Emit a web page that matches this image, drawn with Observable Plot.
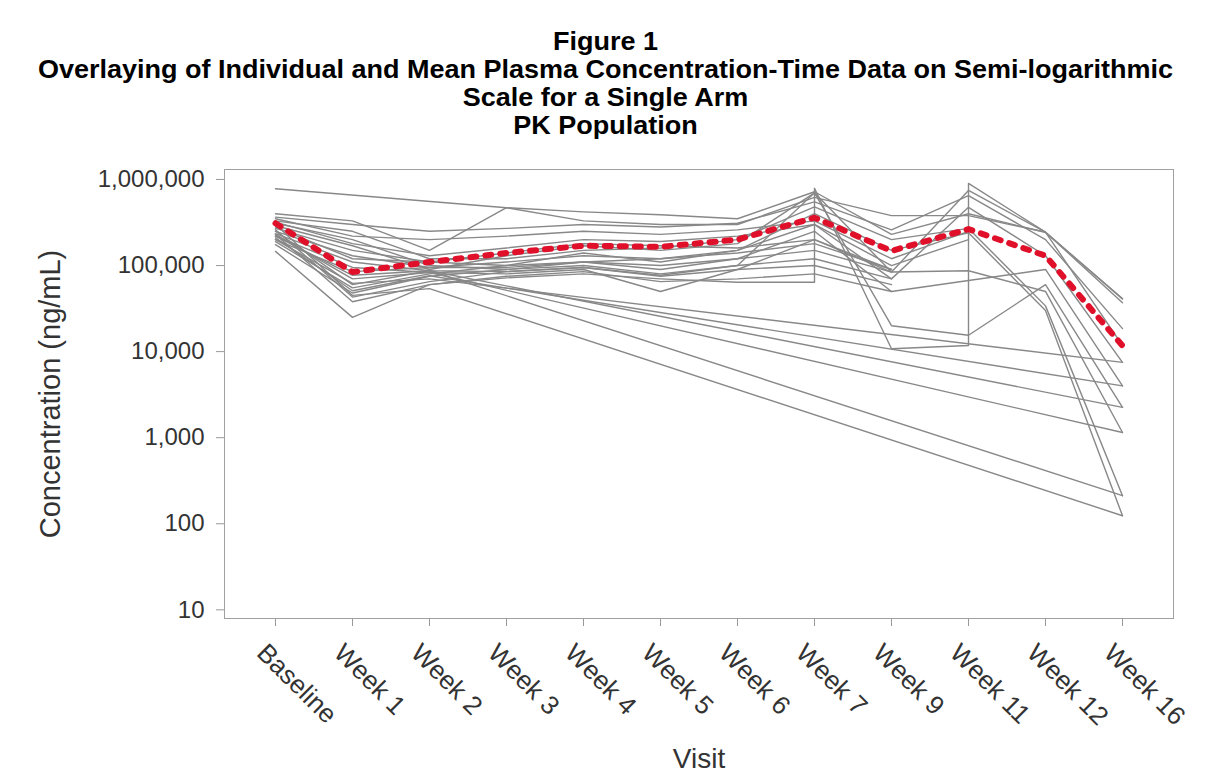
<!DOCTYPE html>
<html><head><meta charset="utf-8">
<script src="https://cdn.jsdelivr.net/npm/d3@7"></script>
<script src="https://cdn.jsdelivr.net/npm/@observablehq/plot@0.6"></script>
<style>
body{margin:0;background:#fff;}
#chart{position:relative;width:1211px;height:776px;overflow:hidden;}
#titles{position:absolute;left:0;top:27px;width:1211px;text-align:center;font-family:"Liberation Sans",Arial,sans-serif;font-weight:bold;font-size:25px;line-height:28px;color:#000;}
#titles div{transform:scaleX(1.08);transform-origin:50% 50%;}
</style></head><body>
<div id="chart"><div id="titles">
<div>Figure 1</div>
<div>Overlaying of Individual and Mean Plasma Concentration-Time Data on Semi-logarithmic</div>
<div>Scale for a Single Arm</div>
<div>PK Population</div>
</div></div>
<script>
// Visits on the x axis
const visits = ["Baseline","Week 1","Week 2","Week 3","Week 4","Week 5","Week 6","Week 7","Week 9","Week 11","Week 12","Week 16"];
const yTicks = [10, 100, 1000, 10000, 100000, 1000000];
// Mean concentration by visit (ng/mL)
const meanConc = [310000, 84000, 110000, 140000, 170000, 165000, 200000, 360000, 148000, 265000, 130000, 11700];
// Individual subjects, one value per visit (null = missing, pair = pre/post-dose sample)
const s01 = [146000, 25000, 60000, 72000, 80000, 70000, 64000, [64000, 790000], 10800, [11800, 900000], 244000, 41000];
const s02 = [780000, null, null, 470000, 420000, 390000, 350000, 720000, 230000, 400000, 244000, 41000];
const s03 = [400000, 330000, 150000, 470000, 330000, 300000, 300000, 620000, 380000, 380000, 244000, 37000];
const s04 = [365000, 300000, 250000, 270000, 300000, 280000, 310000, 550000, 260000, 650000, 200000, 18500];
const s05 = [330000, 250000, 120000, 120000, 150000, 160000, 200000, 480000, 200000, 270000, 34000, 212];
const s06 = [310000, 200000, 100000, 90000, 110000, 120000, 150000, 400000, 150000, 240000, 30000, 124];
const s07 = [290000, 170000, 90000, 130000, 170000, 150000, 180000, 700000, 84000, 745000, 244000, 11800];
const s08 = [270000, 150000, 110000, 100000, 140000, 110000, 150000, 300000, 70000, 475000, 130000, 7500];
const s09 = [250000, 130000, 95000, 95000, 110000, 90000, 120000, 250000, 50000, 67000, 90000, 4000];
const s10 = [235000, 110000, 87000, 85000, 95000, 77000, 100000, 700000, 20000, 15500, 60000, 2250];
const s11 = [220000, 95000, 83000, 80000, 90000, 50000, 90000, 200000, 84000, 87000, 50000, 1150];
const s12 = [300000, 45000, 54000, null, null, null, null, null, null, null, null, 124];
const s13 = [250000, 60000, 87000, null, null, null, null, null, null, null, null, 212];
const s14 = [230000, 70000, 83000, null, null, null, null, null, null, null, null, 1150];
const s15 = [220000, 77000, 87000, null, null, null, null, null, null, null, null, 2250];
const s16 = [210000, 51000, 76000, null, null, null, null, null, null, null, null, 4000];
const s17 = [200000, 62000, 70000, null, null, null, null, null, null, null, null, 7500];
const s18 = [200000, 85000, 95000, 110000, 130000, 120000, 140000, 180000, 90000, null, null, null];
const s19 = [190000, 55000, 80000, 100000, 110000, 100000, 120000, 150000, 84000, null, null, null];
const s20 = [175000, 48000, 75000, 90000, 100000, 80000, 100000, 120000, 70000, null, null, null];
const s21 = [260000, 43000, 65000, 85000, 95000, 75000, 90000, 100000, 60000, null, null, null];
const s22 = [230000, 38000, 60000, 75000, 85000, 65000, 70000, 80000, 50000, null, null, null];
const s23 = [350000, 220000, 200000, 220000, 250000, 230000, 260000, 330000, 120000, 250000, null, null];
const s24 = [320000, 180000, 130000, 160000, 200000, 190000, 220000, 300000, 100000, 200000, null, null];
const s25 = [280000, 120000, 110000, 140000, 180000, 170000, 160000, 200000, 90000, null, null, null];

const subjects = {s01,s02,s03,s04,s05,s06,s07,s08,s09,s10,s11,s12,s13,s14,s15,s16,s17,s18,s19,s20,s21,s22,s23,s24,s25};
const indiv = [];
for (const [id, vals] of Object.entries(subjects)) {
  visits.forEach((v, i) => {
    const val = vals[i];
    if (val == null) return;
    for (const c of [].concat(val)) indiv.push({id, visit: v, conc: c});
  });
}
const meanData = visits.map((v, i) => ({visit: v, conc: meanConc[i]}));

const chart = Plot.plot({
  width: 1211, height: 776,
  marginLeft: 224, marginRight: 38, marginTop: 169, marginBottom: 158,
  style: {fontFamily: "'Liberation Sans', Arial, sans-serif", background: "#fff", overflow: "visible"},
  x: {type: "point", domain: visits, padding: 0.59},
  y: {type: "log", domain: [7.93, 1.306e6]},
  marks: [
    Plot.axisY({ticks: yTicks, tickFormat: d3.format(","), tickSize: 8, tickPadding: 12, fontSize: 24, stroke: "#999", fill: "#333", label: null}),
    Plot.axisX({tickSize: 8, tickFormat: () => "", stroke: "#999", label: null}),
    Plot.axisX({tickSize: 0, tickPadding: 18, tickRotate: 45, fontSize: 26, fill: "#333", label: null, textAnchor: "start", dx: -14, dy: 12}),
    Plot.line(indiv, {x: "visit", y: "conc", z: "id", stroke: "#888", strokeWidth: 1.4}),
    Plot.line(meanData, {x: "visit", y: "conc", stroke: "#e0102a", strokeWidth: 6, strokeDasharray: "6,9"}),
    Plot.frame({stroke: "#a0a0a0"}),
    Plot.text(["Concentration (ng/mL)"], {frameAnchor: "left", rotate: -90, textAnchor: "middle", dx: -165, lineAnchor: "bottom", fontSize: 29, fill: "#333"}),
    Plot.text(["Visit"], {frameAnchor: "bottom", dy: 149, lineAnchor: "bottom", fontSize: 28, fill: "#333"})
  ]
});
document.getElementById("chart").prepend(chart);
</script>
</body></html>
